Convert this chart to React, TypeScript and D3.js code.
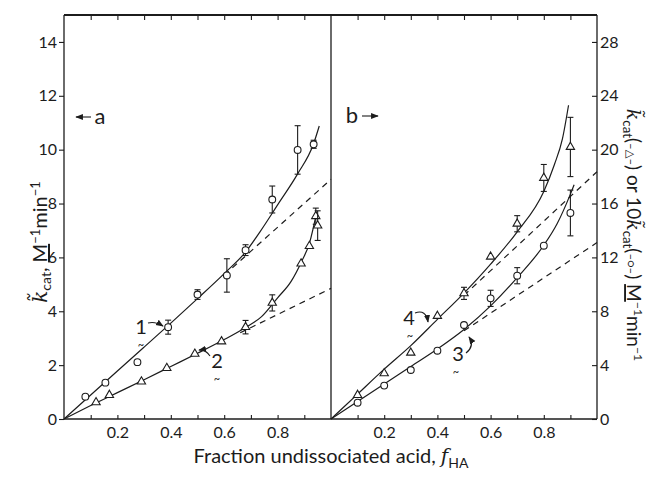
import React, { useEffect, useRef } from 'react'
import * as d3 from 'd3'

// panel a: measured points (circles = curve 1, triangles = curve 2)
const set1X = [0.08, 0.155, 0.275, 0.39, 0.5, 0.61, 0.68, 0.78, 0.875, 0.935]
const set1Y = [0.83, 1.35, 2.11, 3.41, 4.62, 5.33, 6.27, 8.15, 9.99, 10.2]
const set1Err = [0, 0, 0, 0.26, 0.18, 0.62, 0.2, 0.5, 0.9, 0.15]

const set2X = [0.12, 0.17, 0.29, 0.385, 0.49, 0.59, 0.68, 0.78, 0.888, 0.919, 0.943, 0.95]
const set2Y = [0.62, 0.89, 1.39, 1.89, 2.42, 2.88, 3.41, 4.31, 5.77, 6.42, 7.53, 7.18]
const set2Err = [0, 0, 0, 0, 0, 0, 0.25, 0.3, 0, 0, 0.3, 0.55]

// panel b: triangles = curve 4, circles = curve 3 (10x)
const set4X = [0.1, 0.2, 0.3, 0.4, 0.5, 0.6, 0.7, 0.8, 0.9]
const set4Y = [1.78, 3.39, 4.92, 7.65, 9.33, 12.05, 14.5, 17.9, 20.2]
const set4Err = [0, 0, 0, 0, 0.45, 0, 0.6, 1.0, 2.2]

const set3X = [0.1, 0.2, 0.3, 0.4, 0.5, 0.6, 0.7, 0.8, 0.9]
const set3Y = [1.21, 2.48, 3.64, 5.07, 6.98, 8.96, 10.64, 12.87, 15.3]
const set3Err = [0, 0, 0, 0, 0, 0.6, 0.6, 0, 1.7]

// fitted solid curves
const fit1X = [0, 0.1, 0.2, 0.3, 0.4, 0.5, 0.6, 0.68, 0.734, 0.8, 0.875, 0.934, 0.956]
const fit1Y = [0, 0.89, 1.78, 2.67, 3.56, 4.47, 5.4, 6.2, 6.95, 7.95, 9.1, 10.2, 10.88]
const fit2X = [0, 0.1, 0.2, 0.3, 0.4, 0.5, 0.6, 0.68, 0.74, 0.8, 0.85, 0.89, 0.92, 0.946]
const fit2Y = [0, 0.5, 0.98, 1.46, 1.95, 2.44, 2.95, 3.4, 3.8, 4.5, 5.1, 5.85, 6.55, 7.66]
const fit4X = [0, 0.1, 0.2, 0.3, 0.4, 0.5, 0.6, 0.7, 0.8, 0.84, 0.87, 0.893]
const fit4Y = [0, 1.85, 3.7, 5.45, 7.4, 9.35, 11.5, 13.9, 16.9, 18.9, 20.8, 23.3]
const fit3X = [0, 0.1, 0.2, 0.3, 0.4, 0.5, 0.6, 0.7, 0.8, 0.85, 0.9, 0.914]
const fit3Y = [0, 1.3, 2.6, 3.9, 5.2, 6.65, 8.4, 10.5, 12.9, 14.5, 16.7, 17.4]

// dashed initial-slope extensions: [slope, start x]
const dash1 = [8.9, 0.6]
const dash2 = [4.85, 0.66]
const dash4 = [18.36, 0.5]
const dash3 = [13.1, 0.5]

const xTickValues = [0.1, 0.2, 0.3, 0.4, 0.5, 0.6, 0.7, 0.8, 0.9]
const xTickLabels = ['', '0.2', '', '0.4', '', '0.6', '', '0.8', '']
const yLeftTicks = [0, 2, 4, 6, 8, 10, 12, 14]
const yRightTicks = [0, 4, 8, 12, 16, 20, 24, 28]

const W = 647
const H = 479
const ink = '#1c1c1c'
const font = 'Lato, "DejaVu Sans", sans-serif'

const xL = d3.scaleLinear().domain([0, 1]).range([64, 331])
const xR = d3.scaleLinear().domain([0, 1]).range([331, 597])
const yL = d3.scaleLinear().domain([0, 15]).range([419, 15])
const yR = d3.scaleLinear().domain([0, 30]).range([419, 15])

const tri = d3.symbol().type(d3.symbolTriangle).size(30)()

function Points({ xs, ys, errs, sx, sy, shape }) {
  return (
    <g stroke={ink} strokeWidth={1.1} fill="#fff">
      {xs.map((x, i) => {
        const cx = sx(x)
        const cy = sy(ys[i])
        const e = errs[i]
        return (
          <g key={i}>
            {e > 0 && (
              <g>
                <line x1={cx} x2={cx} y1={sy(ys[i] - e)} y2={sy(ys[i] + e)} />
                <line x1={cx - 3} x2={cx + 3} y1={sy(ys[i] - e)} y2={sy(ys[i] - e)} />
                <line x1={cx - 3} x2={cx + 3} y1={sy(ys[i] + e)} y2={sy(ys[i] + e)} />
              </g>
            )}
            {shape === 'circle' ? (
              <circle cx={cx} cy={cy} r={3.4} />
            ) : (
              <path d={tri} transform={`translate(${cx},${cy})`} />
            )}
          </g>
        )
      })}
    </g>
  )
}

function Fit({ xs, ys, sx, sy }) {
  const line = d3
    .line()
    .x((d) => sx(d[0]))
    .y((d) => sy(d[1]))
    .curve(d3.curveMonotoneX)
  return <path d={line(xs.map((x, i) => [x, ys[i]]))} fill="none" stroke={ink} strokeWidth={1.2} />
}

function Dash({ spec, sx, sy }) {
  const [slope, x0] = spec
  return (
    <line
      x1={sx(x0)}
      y1={sy(slope * x0)}
      x2={sx(1)}
      y2={sy(slope * 1)}
      stroke={ink}
      strokeWidth={1.2}
      strokeDasharray="6,5"
    />
  )
}

export default function App() {
  const axRef = useRef(null)

  useEffect(() => {
    const g = d3.select(axRef.current)
    g.selectAll('*').remove()
    const style = (sel) => {
      sel.select('.domain').remove()
      sel.selectAll('line').attr('stroke', ink).attr('stroke-width', 1.1)
      sel.selectAll('text').attr('fill', ink).style('font-family', font).style('font-size', '16px')
    }
    ;[xL, xR].forEach((sx) => {
      g.append('g')
        .attr('transform', `translate(0,${yL(0)})`)
        .call(
          d3.axisBottom(sx).tickValues(xTickValues).tickSizeInner(-4).tickSizeOuter(0).tickPadding(8)
            .tickFormat((d, i) => xTickLabels[i])
        )
        .call(style)
      g.append('g')
        .attr('transform', `translate(0,${yL(15)})`)
        .call(d3.axisTop(sx).tickValues(xTickValues).tickSizeInner(-5).tickSizeOuter(0).tickFormat(() => ''))
        .call(style)
    })
    g.append('g')
      .attr('transform', `translate(${xL(0)},0)`)
      .call(d3.axisLeft(yL).tickValues(yLeftTicks).tickSizeInner(5).tickSizeOuter(0).tickPadding(2))
      .call(style)
    g.append('g')
      .attr('transform', `translate(${xR(1)},0)`)
      .call(d3.axisRight(yR).tickValues(yRightTicks).tickSizeInner(-5).tickSizeOuter(0).tickPadding(3))
      .call(style)
  }, [])

  const tx = { fontFamily: font, fill: ink }
  const kt = (
    <>
      <tspan fontFamily='"DejaVu Serif", serif' fontStyle="italic">k̃</tspan>
      <tspan fontSize="70%" dy="4">cat</tspan>
    </>
  )
  const unit = (
    <>
      <tspan textDecoration="underline" style={{ textDecoration: 'underline' }}>M</tspan>
      <tspan fontSize="65%" dy="-7">−1</tspan>
      <tspan dy="7">min</tspan>
      <tspan fontSize="65%" dy="-7">−1</tspan>
    </>
  )

  return (
    <svg width={W} height={H} style={{ position: 'absolute', left: 0, top: 0, background: '#fff' }}>
      <defs>
        <marker id="ah" viewBox="0 0 10 10" refX="9" refY="5" markerWidth="7" markerHeight="7" orient="auto">
          <path d="M0,1 L10,5 L0,9 z" fill={ink} />
        </marker>
      </defs>
      <rect width={W} height={H} fill="#fff" />

      {/* frame */}
      <g stroke={ink} fill="none">
        <line x1={xL(0)} x2={xR(1)} y1={yL(15)} y2={yL(15)} strokeWidth={2} />
        <line x1={xL(0)} x2={xR(1)} y1={yL(0)} y2={yL(0)} strokeWidth={1.6} />
        <line x1={xL(0)} x2={xL(0)} y1={yL(0)} y2={yL(15)} strokeWidth={1.3} />
        <line x1={xL(1)} x2={xL(1)} y1={yL(0)} y2={yL(15)} strokeWidth={1.3} />
        <line x1={xR(1)} x2={xR(1)} y1={yL(0)} y2={yL(15)} strokeWidth={1.3} />
      </g>
      <g ref={axRef} />

      {/* panel a */}
      <Dash spec={dash1} sx={xL} sy={yL} />
      <Dash spec={dash2} sx={xL} sy={yL} />
      <Fit xs={fit1X} ys={fit1Y} sx={xL} sy={yL} />
      <Fit xs={fit2X} ys={fit2Y} sx={xL} sy={yL} />
      <Points xs={set1X} ys={set1Y} errs={set1Err} sx={xL} sy={yL} shape="circle" />
      <Points xs={set2X} ys={set2Y} errs={set2Err} sx={xL} sy={yL} shape="tri" />

      {/* panel b */}
      <Dash spec={dash4} sx={xR} sy={yR} />
      <Dash spec={dash3} sx={xR} sy={yR} />
      <Fit xs={fit4X} ys={fit4Y} sx={xR} sy={yR} />
      <Fit xs={fit3X} ys={fit3Y} sx={xR} sy={yR} />
      <Points xs={set4X} ys={set4Y} errs={set4Err} sx={xR} sy={yR} shape="tri" />
      <Points xs={set3X} ys={set3Y} errs={set3Err} sx={xR} sy={yR} shape="circle" />

      {/* curve labels */}
      <g style={tx} fontSize={20} textAnchor="middle">
        <text x={141} y={334}>1</text>
        <text x={141} y={349} fontSize={11}>~</text>
        <text x={217} y={368}>2</text>
        <text x={217} y={383} fontSize={11}>~</text>
        <text x={409} y={325}>4</text>
        <text x={410} y={340} fontSize={11}>~</text>
        <text x={458} y={361}>3</text>
        <text x={456} y={376} fontSize={11}>~</text>
      </g>
      <g stroke={ink} strokeWidth={1.1} fill="none">
        <path d="M148,323 Q155,321 163,326" markerEnd="url(#ah)" />
        <path d="M210,356 Q205,349 199,350" markerEnd="url(#ah)" />
        <path d="M415,313 Q426,309 428,322" markerEnd="url(#ah)" />
        <path d="M466,353 Q475,346 469,337" markerEnd="url(#ah)" />
        <path d="M91,117 L76,117" markerEnd="url(#ah)" />
        <path d="M362,116 L378,116" markerEnd="url(#ah)" />
      </g>
      <text x={100} y={124} fontSize={22} textAnchor="middle" style={tx}>a</text>
      <text x={352} y={123} fontSize={22} textAnchor="middle" style={tx}>b</text>

      {/* axis titles */}
      <text x={331} y={463} fontSize={20} textAnchor="middle" style={tx}>
        Fraction undissociated acid,{' '}
        <tspan fontFamily='"DejaVu Serif", serif' fontStyle="italic">f</tspan>
        <tspan fontSize="70%" dy="5">HA</tspan>
      </text>
      <text transform="translate(47,242) rotate(-90)" fontSize={20} textAnchor="middle" style={tx}>
        {kt}
        <tspan dy="-4">, </tspan>
        {unit}
      </text>
      <text transform="translate(627,235) rotate(90)" fontSize={19} textAnchor="middle" style={tx}>
        {kt}
        <tspan dy="-4">(</tspan>
        <tspan fontSize="60%">–△–</tspan>
        <tspan>) or 10</tspan>
        {kt}
        <tspan dy="-4">(</tspan>
        <tspan fontSize="60%">–○–</tspan>
        <tspan>) </tspan>
        {unit}
      </text>
    </svg>
  )
}
